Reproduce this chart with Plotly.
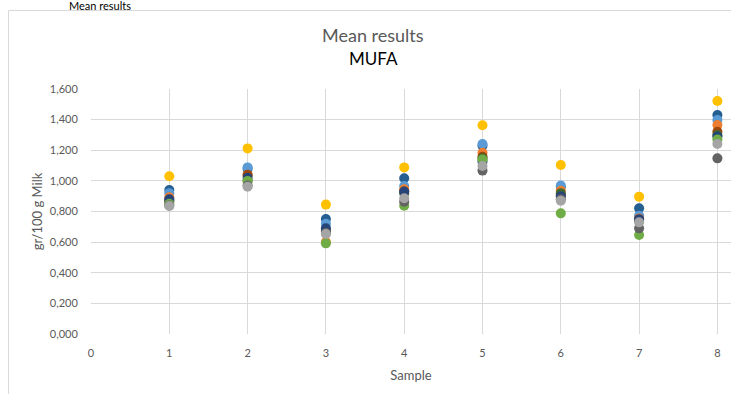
import plotly.graph_objects as go

# Sample numbers on the x axis
samples = [1, 2, 3, 4, 5, 6, 7, 8]

# MUFA means (gr/100 g milk) per series
yellow_vals     = [1.030, 1.212, 0.845, 1.088, 1.363, 1.104, 0.897, 1.522]
darkblue_vals   = [0.940, 1.080, 0.751, 1.017, 1.230, 0.960, 0.821, 1.430]
lightblue_vals  = [0.920, 1.088, 0.720, 0.966, 1.241, 0.969, 0.773, 1.397]
orange_vals     = [0.893, 1.038, 0.600, 0.945, 1.184, 0.936, 0.755, 1.365]
darkred_vals    = [0.870, 1.040, 0.675, 0.930, 1.158, 0.908, 0.745, 1.321]
darkgreen_vals  = [0.864, 1.001, 0.670, 0.919, 1.147, 0.920, 0.740, 1.300]
navy_vals       = [0.880, 1.020, 0.690, 0.930, 1.126, 0.900, 0.750, 1.289]
green_vals      = [0.850, 1.000, 0.592, 0.838, 1.140, 0.788, 0.647, 1.270]
darkgray_vals   = [0.840, 0.970, 0.660, 0.864, 1.067, 0.880, 0.690, 1.147]
gray_vals       = [0.836, 0.962, 0.653, 0.886, 1.097, 0.871, 0.729, 1.241]

series = [
    ("#FFC000", yellow_vals),
    ("#255E91", darkblue_vals),
    ("#5B9BD5", lightblue_vals),
    ("#ED7D31", orange_vals),
    ("#9E480E", darkred_vals),
    ("#43682B", darkgreen_vals),
    ("#264478", navy_vals),
    ("#70AD47", green_vals),
    ("#636363", darkgray_vals),
    ("#A5A5A5", gray_vals),
]

# Axis tick labels
x_ticks = [0, 1, 2, 3, 4, 5, 6, 7, 8]
y_ticks = [0, 0.2, 0.4, 0.6, 0.8, 1.0, 1.2, 1.4, 1.6]
y_labels = ["0,000", "0,200", "0,400", "0,600", "0,800", "1,000", "1,200", "1,400", "1,600"]

FONT = "Lato, Open Sans, sans-serif"
GRID = "#D9D9D9"

fig = go.Figure()
for color, vals in series:
    fig.add_trace(go.Scatter(
        x=samples, y=vals, mode="markers",
        marker=dict(size=10, color=color, line=dict(width=0)),
        showlegend=False, cliponaxis=False,
    ))

W, H = 731, 394
L, R, T, B = 91, 0, 89, 60
pw, ph = W - L - R, H - T - B
px_per_unit = 78.3


def px_to_paper_x(px):
    return (px - L) / pw


def px_to_paper_y(py):
    return (H - B - py) / ph


fig.update_layout(
    width=W, height=H,
    margin=dict(l=L, r=R, t=T, b=B),
    paper_bgcolor="white", plot_bgcolor="white",
    font=dict(family=FONT, color="#595959", size=11),
    xaxis=dict(
        range=[0, pw / px_per_unit],
        tickvals=x_ticks, ticktext=[str(v) for v in x_ticks],
        showgrid=True, gridcolor=GRID, gridwidth=1,
        zeroline=False, showline=False,
        ticks="outside", ticklen=9, tickcolor="rgba(0,0,0,0)",
        tickfont=dict(size=11, color="#595959"),
        title=dict(text="Sample", font=dict(size=13, color="#595959"), standoff=12),
    ),
    yaxis=dict(
        range=[0, 1.6],
        tickvals=y_ticks, ticktext=y_labels,
        showgrid=True, gridcolor=GRID, gridwidth=1,
        zeroline=False, showline=False,
        ticks="outside", ticklen=10, tickcolor="rgba(0,0,0,0)",
        tickfont=dict(size=11, color="#595959"),
        title=dict(text="gr/100 g Milk", font=dict(size=13, color="#595959"), standoff=4),
    ),
    shapes=[
        # chart frame
        dict(type="rect", xref="paper", yref="paper",
             x0=px_to_paper_x(8.5), x1=px_to_paper_x(760),
             y0=px_to_paper_y(420), y1=px_to_paper_y(10.5),
             line=dict(color=GRID, width=1), fillcolor="rgba(0,0,0,0)", layer="below"),
    ],
    annotations=[
        dict(text="Mean results", xref="paper", yref="paper",
             x=px_to_paper_x(373), y=px_to_paper_y(35), xanchor="center", yanchor="middle",
             showarrow=False, font=dict(size=18, color="#595959", family=FONT)),
        dict(text="MUFA", xref="paper", yref="paper",
             x=px_to_paper_x(373), y=px_to_paper_y(58), xanchor="center", yanchor="middle",
             showarrow=False, font=dict(size=17, color="#000000", family=FONT)),
        dict(text="Mean results", xref="paper", yref="paper",
             x=px_to_paper_x(100), y=px_to_paper_y(5), xanchor="center", yanchor="middle",
             showarrow=False, font=dict(size=11, color="#000000", family=FONT)),
    ],
)

fig.write_html("out.html")
